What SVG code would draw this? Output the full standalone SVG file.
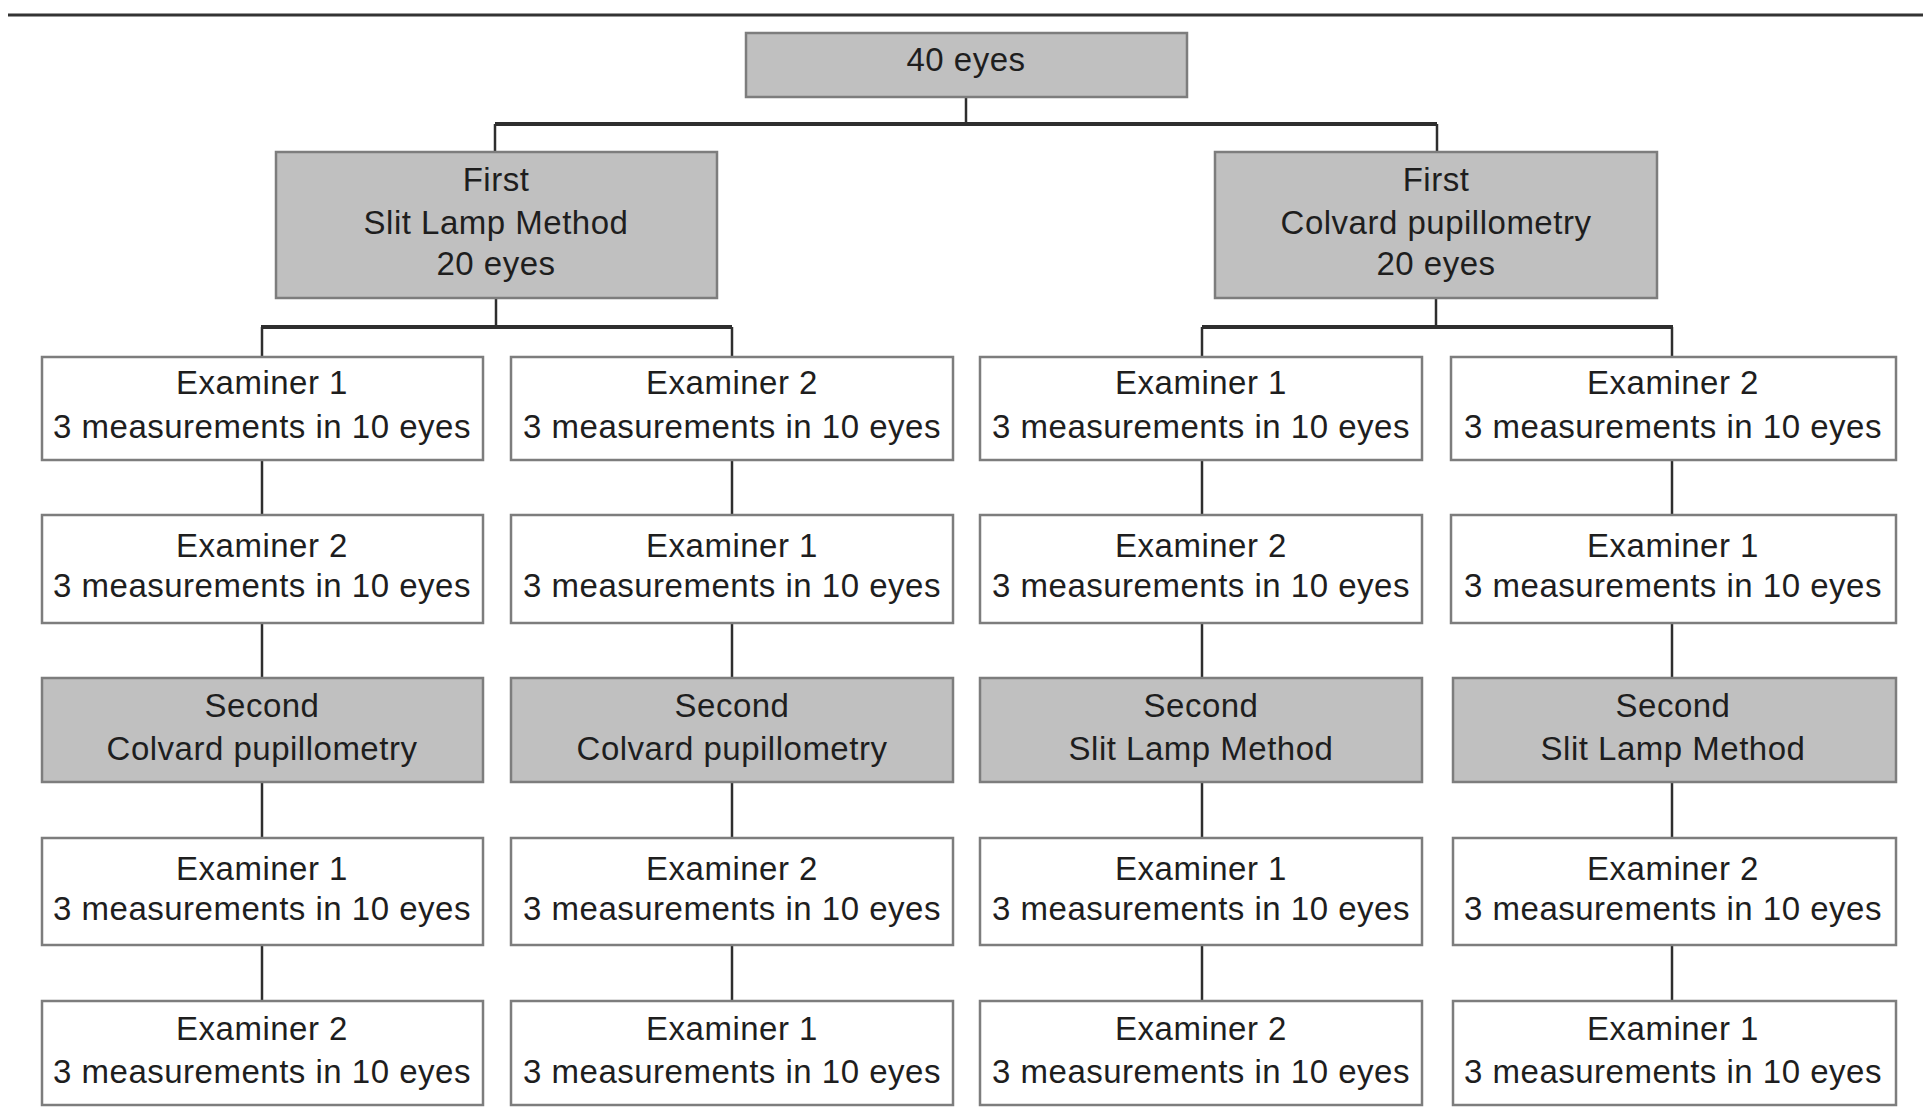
<svg xmlns="http://www.w3.org/2000/svg" width="1923" height="1119" viewBox="0 0 1923 1119">
<style>
.box{stroke:#7d7d7d;stroke-width:2.5}
.w{fill:#ffffff}
.g{fill:#c0c0c0}
.t{font-family:"Liberation Sans",Arial,sans-serif;font-size:33px;fill:#1e1e1e;text-anchor:middle;letter-spacing:0.5px}
.c{stroke:#2e2e2e;stroke-width:2.5;fill:none}
.h{stroke:#2e2e2e;stroke-width:4;fill:none}
</style>
<rect width="1923" height="1119" fill="#ffffff"/>
<line x1="8" y1="15" x2="1923" y2="15" stroke="#333" stroke-width="3"/>
<g id="connectors">
<line class="c" x1="966" y1="97" x2="966" y2="124"/>
<line class="h" x1="495" y1="124" x2="1437" y2="124"/>
<line class="c" x1="495" y1="124" x2="495" y2="152"/>
<line class="c" x1="1437" y1="124" x2="1437" y2="152"/>
<line class="c" x1="496" y1="298" x2="496" y2="327"/>
<line class="h" x1="261" y1="327" x2="732" y2="327"/>
<line class="c" x1="262" y1="327" x2="262" y2="357"/>
<line class="c" x1="732" y1="327" x2="732" y2="357"/>
<line class="c" x1="1436" y1="298" x2="1436" y2="327"/>
<line class="h" x1="1202" y1="327" x2="1673" y2="327"/>
<line class="c" x1="1202" y1="327" x2="1202" y2="357"/>
<line class="c" x1="1672" y1="327" x2="1672" y2="357"/>
<g>
<line class="c" x1="262" y1="460" x2="262" y2="515"/>
<line class="c" x1="262" y1="623" x2="262" y2="678"/>
<line class="c" x1="262" y1="782" x2="262" y2="838"/>
<line class="c" x1="262" y1="945" x2="262" y2="1001"/>
<line class="c" x1="732" y1="460" x2="732" y2="515"/>
<line class="c" x1="732" y1="623" x2="732" y2="678"/>
<line class="c" x1="732" y1="782" x2="732" y2="838"/>
<line class="c" x1="732" y1="945" x2="732" y2="1001"/>
<line class="c" x1="1202" y1="460" x2="1202" y2="515"/>
<line class="c" x1="1202" y1="623" x2="1202" y2="678"/>
<line class="c" x1="1202" y1="782" x2="1202" y2="838"/>
<line class="c" x1="1202" y1="945" x2="1202" y2="1001"/>
<line class="c" x1="1672" y1="460" x2="1672" y2="515"/>
<line class="c" x1="1672" y1="623" x2="1672" y2="678"/>
<line class="c" x1="1672" y1="782" x2="1672" y2="838"/>
<line class="c" x1="1672" y1="945" x2="1672" y2="1001"/>
</g>
</g>
<g id="root"><rect class="box g" x="746" y="33" width="441" height="64"/><text class="t" x="966" y="71">40 eyes</text></g>
<g id="first-slit"><rect class="box g" x="276" y="152" width="441" height="146"/><text class="t" x="496" y="191">First</text><text class="t" x="496" y="234">Slit Lamp Method</text><text class="t" x="496" y="275">20 eyes</text></g>
<g id="first-colvard"><rect class="box g" x="1215" y="152" width="442" height="146"/><text class="t" x="1436" y="191">First</text><text class="t" x="1436" y="234">Colvard pupillometry</text><text class="t" x="1436" y="275">20 eyes</text></g>

<g id="c1r1"><rect class="box w" x="42" y="357" width="441" height="103"/><text class="t" x="262" y="394">Examiner 1</text><text class="t" x="262" y="438">3 measurements in 10 eyes</text></g>
<g id="c2r1"><rect class="box w" x="511" y="357" width="442" height="103"/><text class="t" x="732" y="394">Examiner 2</text><text class="t" x="732" y="438">3 measurements in 10 eyes</text></g>
<g id="c3r1"><rect class="box w" x="980" y="357" width="442" height="103"/><text class="t" x="1201" y="394">Examiner 1</text><text class="t" x="1201" y="438">3 measurements in 10 eyes</text></g>
<g id="c4r1"><rect class="box w" x="1451" y="357" width="445" height="103"/><text class="t" x="1673" y="394">Examiner 2</text><text class="t" x="1673" y="438">3 measurements in 10 eyes</text></g>

<g id="c1r2"><rect class="box w" x="42" y="515" width="441" height="108"/><text class="t" x="262" y="557">Examiner 2</text><text class="t" x="262" y="597">3 measurements in 10 eyes</text></g>
<g id="c2r2"><rect class="box w" x="511" y="515" width="442" height="108"/><text class="t" x="732" y="557">Examiner 1</text><text class="t" x="732" y="597">3 measurements in 10 eyes</text></g>
<g id="c3r2"><rect class="box w" x="980" y="515" width="442" height="108"/><text class="t" x="1201" y="557">Examiner 2</text><text class="t" x="1201" y="597">3 measurements in 10 eyes</text></g>
<g id="c4r2"><rect class="box w" x="1451" y="515" width="445" height="108"/><text class="t" x="1673" y="557">Examiner 1</text><text class="t" x="1673" y="597">3 measurements in 10 eyes</text></g>

<g id="c1r3"><rect class="box g" x="42" y="678" width="441" height="104"/><text class="t" x="262" y="717">Second</text><text class="t" x="262" y="760">Colvard pupillometry</text></g>
<g id="c2r3"><rect class="box g" x="511" y="678" width="442" height="104"/><text class="t" x="732" y="717">Second</text><text class="t" x="732" y="760">Colvard pupillometry</text></g>
<g id="c3r3"><rect class="box g" x="980" y="678" width="442" height="104"/><text class="t" x="1201" y="717">Second</text><text class="t" x="1201" y="760">Slit Lamp Method</text></g>
<g id="c4r3"><rect class="box g" x="1453" y="678" width="443" height="104"/><text class="t" x="1673" y="717">Second</text><text class="t" x="1673" y="760">Slit Lamp Method</text></g>

<g id="c1r4"><rect class="box w" x="42" y="838" width="441" height="107"/><text class="t" x="262" y="880">Examiner 1</text><text class="t" x="262" y="920">3 measurements in 10 eyes</text></g>
<g id="c2r4"><rect class="box w" x="511" y="838" width="442" height="107"/><text class="t" x="732" y="880">Examiner 2</text><text class="t" x="732" y="920">3 measurements in 10 eyes</text></g>
<g id="c3r4"><rect class="box w" x="980" y="838" width="442" height="107"/><text class="t" x="1201" y="880">Examiner 1</text><text class="t" x="1201" y="920">3 measurements in 10 eyes</text></g>
<g id="c4r4"><rect class="box w" x="1453" y="838" width="443" height="107"/><text class="t" x="1673" y="880">Examiner 2</text><text class="t" x="1673" y="920">3 measurements in 10 eyes</text></g>

<g id="c1r5"><rect class="box w" x="42" y="1001" width="441" height="104"/><text class="t" x="262" y="1040">Examiner 2</text><text class="t" x="262" y="1083">3 measurements in 10 eyes</text></g>
<g id="c2r5"><rect class="box w" x="511" y="1001" width="442" height="104"/><text class="t" x="732" y="1040">Examiner 1</text><text class="t" x="732" y="1083">3 measurements in 10 eyes</text></g>
<g id="c3r5"><rect class="box w" x="980" y="1001" width="442" height="104"/><text class="t" x="1201" y="1040">Examiner 2</text><text class="t" x="1201" y="1083">3 measurements in 10 eyes</text></g>
<g id="c4r5"><rect class="box w" x="1453" y="1001" width="443" height="104"/><text class="t" x="1673" y="1040">Examiner 1</text><text class="t" x="1673" y="1083">3 measurements in 10 eyes</text></g>
</svg>
